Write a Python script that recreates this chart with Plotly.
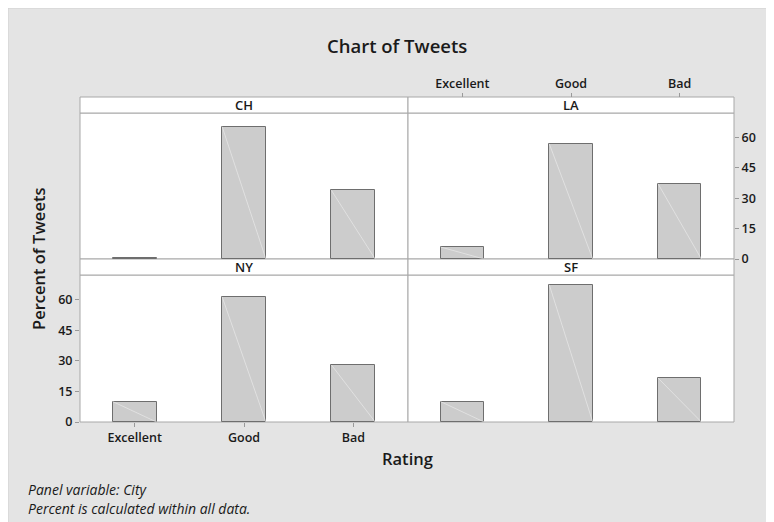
import plotly.graph_objects as go

# ---- data ----
title_text = "Chart of Tweets"
ratings = ["Excellent", "Good", "Bad"]
cities = ["CH", "LA", "NY", "SF"]
ch_pct = [0.5, 65.3, 33.8]
la_pct = [5.9, 56.8, 37.2]
ny_pct = [10.0, 61.3, 27.9]
sf_pct = [10.0, 67.2, 21.6]
y_ticks = [0, 15, 30, 45, 60]
footnotes = ["Panel variable: City", "Percent is calculated within all data."]

W, H = 774, 522
OFF = 8  # page body margin
ML, MR, MT, MB = 80 - OFF, W - (734 - OFF), 97 - OFF, H - (422 - OFF)
PW, PH = W - ML - MR, H - MT - MB

def px_x(s):  # screenshot x -> paper
    return (s - OFF - ML) / PW

def px_y(s):  # screenshot y -> paper
    return (H - MB - (s - OFF)) / PH

xmid = px_x(408)
x_left = [0, xmid]
x_right = [xmid, 1]
y_bot = [0, px_y(275)]
y_bot_strip = [px_y(275), px_y(259)]
y_top = [px_y(259), px_y(113)]
y_top_strip = [px_y(113), 1]

FONT = "Open Sans"
TXT = "#1a1a1a"
GRID = "#a8a8a8"
BG = "#e4e4e4"

fig = go.Figure()
values = [ch_pct, la_pct, ny_pct, sf_pct]
xpos = list(range(len(ratings)))
bw = 0.4
for k, vals in enumerate(values):
    ax = "" if k == 0 else str(k + 1)
    fig.add_trace(go.Bar(
        x=xpos, y=vals, width=bw,
        marker=dict(color="#cccccc", line=dict(color="#6e6e6e", width=1)),
        xaxis="x" + ax, yaxis="y" + ax, showlegend=False, hoverinfo="skip"))
    dx, dy = [], []
    for i, v in zip(xpos, vals):
        if v > 2:
            dx += [i - bw / 2, i + bw / 2, None]
            dy += [v, 0, None]
    fig.add_trace(go.Scatter(
        x=dx, y=dy, mode="lines",
        line=dict(color="rgba(240,240,240,0.8)", width=0.7),
        xaxis="x" + ax, yaxis="y" + ax, showlegend=False, hoverinfo="skip"))

tickfont = dict(family=FONT, size=12.5, color=TXT, weight=600)

def xa(domain, show=False, side="bottom", anchor="y", position=None):
    d = dict(domain=domain, range=[-0.5, 2.5], showgrid=False, zeroline=False,
             showline=False, tickvals=xpos, ticktext=ratings,
             showticklabels=show, ticks="outside" if show else "",
             ticklen=4, tickcolor="#999999", side=side, anchor=anchor,
             tickfont=tickfont, fixedrange=True)
    if position is not None:
        d["position"] = position
    return d

def ya(domain, show=False, side="left", anchor="x"):
    return dict(domain=domain, range=[0, 72], showgrid=False, zeroline=False,
                showline=False, tickvals=y_ticks, showticklabels=show,
                ticks="outside" if show else "", ticklen=4, tickcolor="#999999",
                side=side, anchor=anchor, tickfont=tickfont, fixedrange=True)

shapes = []
# faint border of the chart area
shapes.append(dict(type="rect", xref="paper", yref="paper", layer="below",
                   x0=px_x(8), x1=px_x(W + 20), y0=px_y(H + 20), y1=px_y(8),
                   fillcolor="rgba(0,0,0,0)", line=dict(color="#cfcfcf", width=1)))
panels = [
    (x_left, y_top, y_top_strip),
    (x_right, y_top, y_top_strip),
    (x_left, y_bot, y_bot_strip),
    (x_right, y_bot, y_bot_strip),
]
annotations = []
for city, (xd, yd, ys) in zip(cities, panels):
    shapes.append(dict(type="rect", xref="paper", yref="paper", layer="below",
                       x0=xd[0], x1=xd[1], y0=yd[0], y1=yd[1],
                       fillcolor="white", line=dict(color=GRID, width=1)))
    shapes.append(dict(type="rect", xref="paper", yref="paper", layer="below",
                       x0=xd[0], x1=xd[1], y0=ys[0], y1=ys[1],
                       fillcolor="white", line=dict(color=GRID, width=1)))
    annotations.append(dict(text=city, xref="paper", yref="paper",
                            x=(xd[0] + xd[1]) / 2, y=(ys[0] + ys[1]) / 2,
                            showarrow=False, xanchor="center", yanchor="middle",
                            font=dict(family=FONT, size=13, color=TXT, weight=600)))

annotations.append(dict(text=title_text, xref="paper", yref="paper",
                        x=px_x(397), y=px_y(45), showarrow=False,
                        xanchor="center", yanchor="middle",
                        font=dict(family=FONT, size=18.5, color=TXT, weight=600)))
annotations.append(dict(text="Percent of Tweets", xref="paper", yref="paper",
                        x=px_x(38), y=px_y(259), showarrow=False, textangle=-90,
                        xanchor="center", yanchor="middle",
                        font=dict(family=FONT, size=16.5, color=TXT, weight=600)))
annotations.append(dict(text="Rating", xref="paper", yref="paper",
                        x=px_x(408), y=px_y(458), showarrow=False,
                        xanchor="center", yanchor="middle",
                        font=dict(family=FONT, size=16.5, color=TXT, weight=600)))
for txt, py in zip(footnotes, [490, 508]):
    annotations.append(dict(text="<i>" + txt + "</i>", xref="paper", yref="paper",
                            x=px_x(26), y=px_y(py), showarrow=False,
                            xanchor="left", yanchor="middle",
                            font=dict(family=FONT, size=14, color=TXT)))

fig.update_layout(
    width=W, height=H,
    margin=dict(l=ML, r=MR, t=MT, b=MB),
    paper_bgcolor=BG, plot_bgcolor="white",
    bargap=0,
    xaxis=xa(x_left, anchor="y"), yaxis=ya(y_top, anchor="x"),
    xaxis2=xa(x_right, show=True, side="top", anchor="free", position=1),
    yaxis2=ya(y_top, show=True, side="right", anchor="x2"),
    xaxis3=xa(x_left, show=True, side="bottom", anchor="y3"),
    yaxis3=ya(y_bot, show=True, side="left", anchor="x3"),
    xaxis4=xa(x_right, anchor="y4"), yaxis4=ya(y_bot, anchor="x4"),
    shapes=shapes, annotations=annotations,
)

fig.write_html("out.html")
